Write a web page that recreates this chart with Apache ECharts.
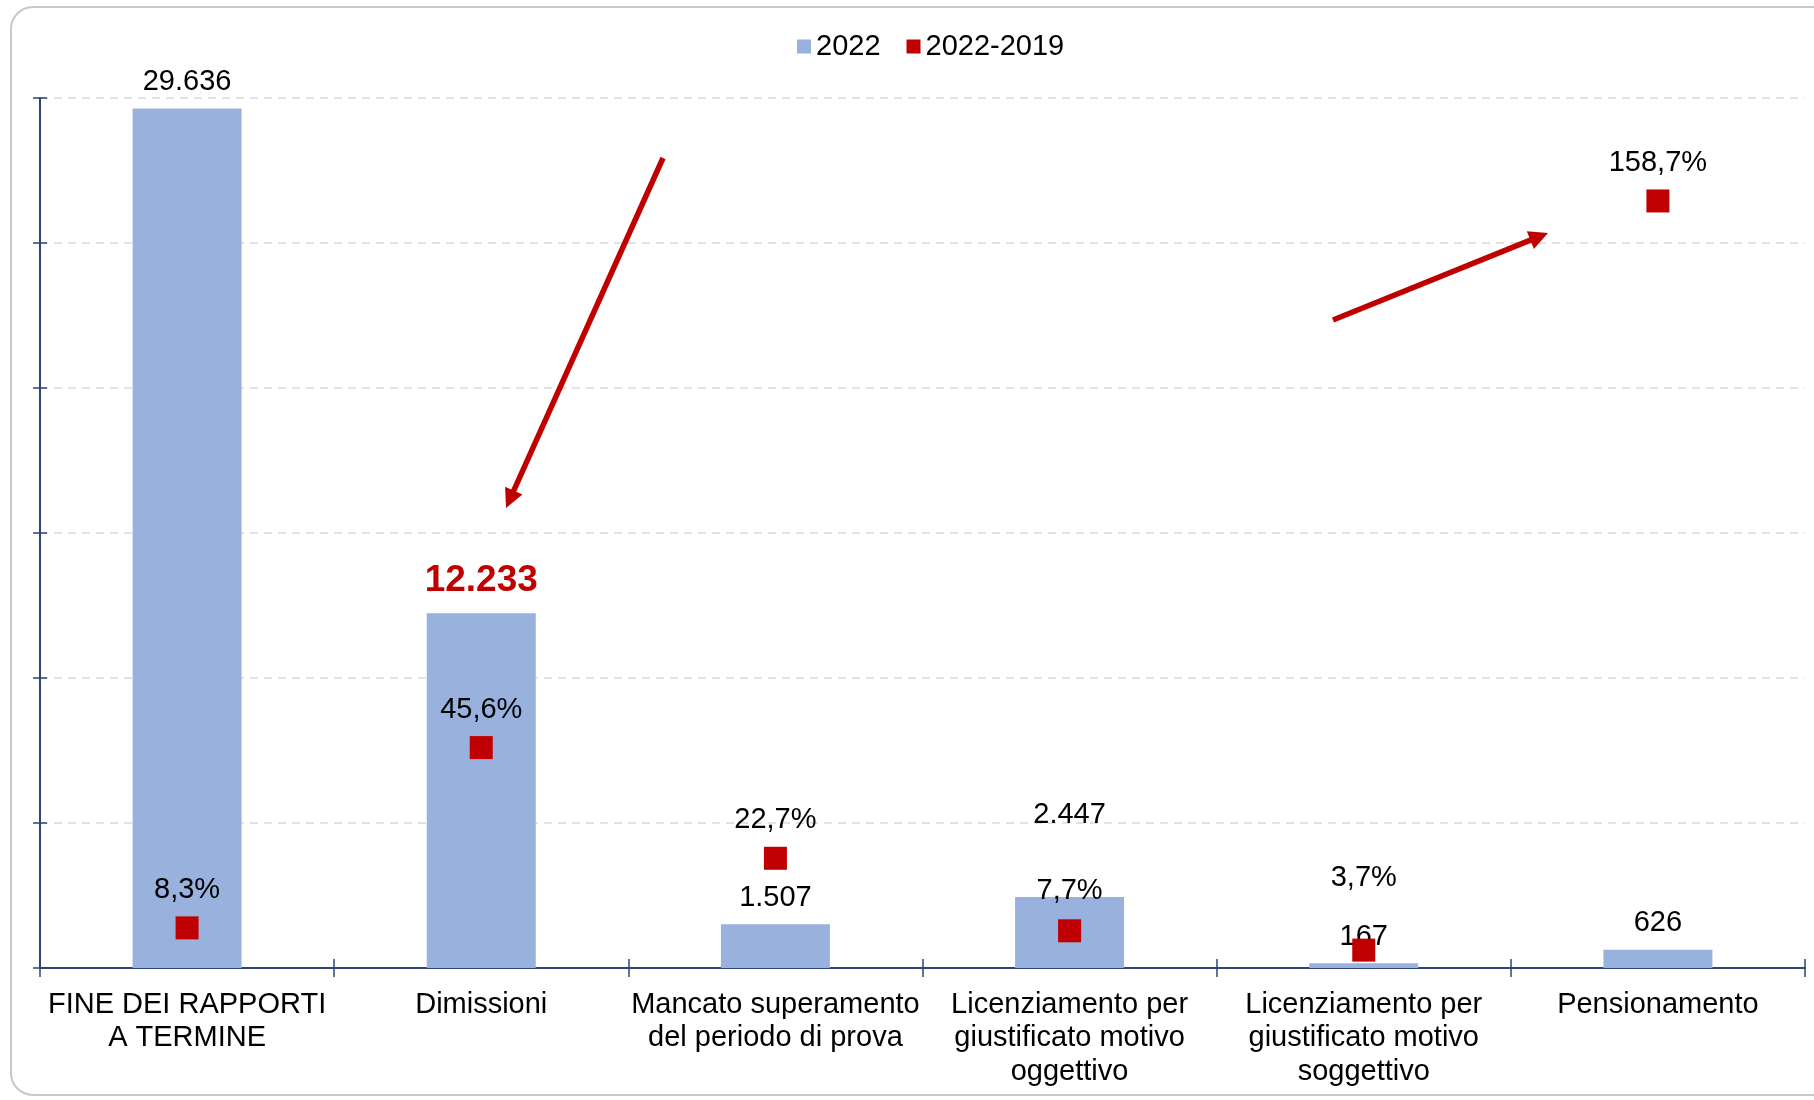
<!DOCTYPE html>
<html>
<head>
<meta charset="utf-8">
<script src="https://cdn.jsdelivr.net/npm/echarts@6/dist/echarts.min.js"></script>
<style>
html,body{margin:0;padding:0;background:#fff;}
#chart{width:1814px;height:1100px;}
</style>
</head>
<body>
<div id="chart"></div>
<script>
// ---- data ----
const categories = [
  "FINE DEI RAPPORTI\nA TERMINE",
  "Dimissioni",
  "Mancato superamento\ndel periodo di prova",
  "Licenziamento per\ngiustificato motivo\noggettivo",
  "Licenziamento per\ngiustificato motivo\nsoggettivo",
  "Pensionamento"
];
const values2022 = [29636, 12233, 1507, 2447, 167, 626];
const change2022_2019 = [8.3, 45.6, 22.7, 7.7, 3.7, 158.7];
const seriesNames = ["2022", "2022-2019"];

// ---- helpers ----
function fmtInt(v){
  return String(Math.round(v)).replace(/\B(?=(\d{3})+(?!\d))/g, ".");
}
function fmtPct(v){
  return v.toFixed(1).replace(".", ",") + "%";
}
const FONT = "'Liberation Sans', Arial, sans-serif";
const NAVY = "#2E4476";
const RED = "#C00000";
const BLUE = "#98B1DD";
const FS = 29;

// label offsets (styling, per item)
const barLabelDist = [12, 14, 12, 68, 12, 12];
const pctLabelDist = [12, 12, 12, 14, 46, 12];

const barData = values2022.map((v, i) => {
  const item = { value: v, label: { distance: barLabelDist[i] } };
  if (i === 1) {
    item.label.color = RED;
    item.label.fontWeight = "bold";
    item.label.fontSize = 37;
  }
  return item;
});
const pctData = change2022_2019.map((v, i) => ({ value: v, label: { distance: pctLabelDist[i] } }));

function arrow(sx, sy, tx, ty){
  const dx = tx - sx, dy = ty - sy;
  const len = Math.sqrt(dx*dx + dy*dy);
  const ux = dx/len, uy = dy/len;
  const nx = -uy, ny = ux;
  const L = 19, W = 9.5;
  const bx = tx - ux*L, by = ty - uy*L;
  return [
    { type: "line", shape: { x1: sx, y1: sy, x2: bx + ux*2, y2: by + uy*2 },
      style: { stroke: RED, lineWidth: 5.5 }, z: 100 },
    { type: "polygon", shape: { points: [[tx, ty], [bx + nx*W, by + ny*W], [bx - nx*W, by - ny*W]] },
      style: { fill: RED }, z: 100 }
  ];
}

const chart = echarts.init(document.getElementById("chart"), null, { renderer: "canvas" });
chart.setOption({
  animation: false,
  backgroundColor: "#fff",
  textStyle: { fontFamily: FONT },
  legend: {
    left: 792,
    top: 27,
    itemWidth: 14,
    itemHeight: 14,
    itemGap: 26,
    textStyle: { fontSize: FS, color: "#000", fontFamily: FONT },
    data: [
      { name: seriesNames[0], icon: "rect" },
      { name: seriesNames[1], icon: "rect" }
    ]
  },
  grid: { left: 40, right: 9, top: 98, bottom: 132, containLabel: false },
  xAxis: [
    {
      type: "category",
      data: categories,
      boundaryGap: true,
      axisLine: { show: true, lineStyle: { color: NAVY, width: 2 } },
      axisTick: { show: true, length: 9, interval: 0, lineStyle: { color: NAVY, width: 1.5 } },
      axisLabel: { interval: 0, fontSize: FS, lineHeight: 33.5, margin: 20, color: "#000", fontFamily: FONT },
      splitLine: { show: false }
    },
    {
      type: "category",
      data: categories,
      position: "bottom",
      boundaryGap: true,
      axisLine: { show: false },
      axisTick: { show: true, inside: true, length: 9, interval: 0, lineStyle: { color: NAVY, width: 1.5 } },
      axisLabel: { show: false },
      splitLine: { show: false }
    }
  ],
  yAxis: [
    {
      type: "value",
      min: 0, max: 30000, interval: 5000,
      position: "left",
      axisLine: { show: true, lineStyle: { color: NAVY, width: 2 } },
      axisTick: { show: true, length: 7, lineStyle: { color: NAVY, width: 1.5 } },
      axisLabel: { show: false },
      splitLine: { show: true, lineStyle: { color: "#D9D9D9", width: 1.5, type: [8, 6] } }
    },
    {
      type: "value",
      min: 0, max: 180, interval: 30,
      position: "left",
      axisLine: { show: false },
      axisTick: { show: true, inside: true, length: 7, lineStyle: { color: NAVY, width: 1.5 } },
      axisLabel: { show: false },
      splitLine: { show: false }
    }
  ],
  series: [
    {
      name: seriesNames[0],
      type: "bar",
      xAxisIndex: 0,
      yAxisIndex: 0,
      data: barData,
      barWidth: 109,
      itemStyle: { color: BLUE, opacity: 1 },
      label: {
        show: true, position: "top", fontSize: FS, color: "#000", fontFamily: FONT,
        formatter: p => fmtInt(p.value)
      },
      z: 2
    },
    {
      name: seriesNames[1],
      type: "scatter",
      xAxisIndex: 0,
      yAxisIndex: 1,
      data: pctData,
      symbol: "rect",
      symbolSize: 23,
      itemStyle: { color: RED, opacity: 1 },
      label: {
        show: true, position: "top", fontSize: FS, color: "#000", opacity: 1, fontFamily: FONT,
        formatter: p => fmtPct(p.value)
      },
      z: 3
    }
  ],
  graphic: [
    { type: "rect", shape: { x: 11, y: 7, width: 1830, height: 1088, r: 22 },
      style: { fill: "none", stroke: "#C8C8C8", lineWidth: 2 }, z: -1, silent: true },
    ...arrow(663, 158, 506, 508),
    ...arrow(1333, 320, 1548, 233)
  ]
});
</script>
</body>
</html>
